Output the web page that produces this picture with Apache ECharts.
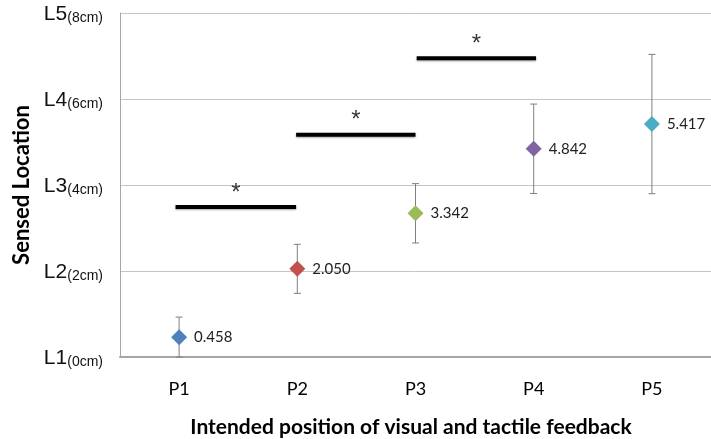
<!DOCTYPE html>
<html>
<head>
<meta charset="utf-8">
<script src="https://cdn.jsdelivr.net/npm/echarts@6/dist/echarts.min.js"></script>
<style>
  html, body { margin: 0; padding: 0; background: #fff; }
  #main { width: 711px; height: 439px; }
</style>
</head>
<body>
<div id="main"></div>
<script>
// categories and values
var positions = ['P1', 'P2', 'P3', 'P4', 'P5'];
var sensed = [0.458, 2.050, 3.342, 4.842, 5.417];
var errors = [0.47, 0.57, 0.69, 1.04, 1.62];
var pointColors = ['#4f81bd', '#c0504d', '#9bbb59', '#8064a2', '#4bacc6'];
var levelNames = ['L1', 'L2', 'L3', 'L4', 'L5'];
var levelCm = ['(0cm)', '(2cm)', '(4cm)', '(6cm)', '(8cm)'];
// significance bars: [from, to, height]
var sigBars = [[0.97, 1.99, 3.49], [1.99, 3.0, 5.17], [3.01, 4.02, 6.95]];

var myChart = echarts.init(document.getElementById('main'));

var pointData = [];
for (var i = 0; i < sensed.length; i++) {
    pointData.push({ value: sensed[i], itemStyle: { color: pointColors[i], opacity: 1 } });
}
var errData = [];
for (var i = 0; i < sensed.length; i++) {
    errData.push([i, Math.max(0, sensed[i] - errors[i]), sensed[i] + errors[i]]);
}

var series = [
    {
        type: 'custom',
        xAxisIndex: 0,
        z: 2,
        renderItem: function (params, api) {
            var x = api.value(0);
            var lo = api.coord([x, api.value(1)]);
            var hi = api.coord([x, api.value(2)]);
            var cap = 3.5;
            var st = { stroke: '#7f7f7f', lineWidth: 1 };
            return {
                type: 'group',
                children: [
                    { type: 'line', shape: { x1: lo[0], y1: lo[1], x2: hi[0], y2: hi[1] }, style: st },
                    { type: 'line', shape: { x1: hi[0] - cap, y1: hi[1], x2: hi[0] + cap, y2: hi[1] }, style: st },
                    { type: 'line', shape: { x1: lo[0] - cap, y1: lo[1], x2: lo[0] + cap, y2: lo[1] }, style: st }
                ]
            };
        },
        data: errData
    },
    {
        type: 'scatter',
        xAxisIndex: 0,
        symbol: 'diamond',
        symbolSize: 16,
        z: 3,
        itemStyle: { opacity: 1 },
        label: {
            show: true,
            position: 'right',
            distance: 7,
            color: '#222',
            fontFamily: 'Lato',
            fontSize: 15,
            formatter: function (p) { return p.value.toFixed(3); }
        },
        data: pointData
    }
];

// significance bars and stars on the hidden value axis
var starData = [];
for (var k = 0; k < sigBars.length; k++) {
    var b = sigBars[k];
    series.push({
        type: 'line',
        xAxisIndex: 1,
        symbol: 'none',
        lineStyle: { color: '#000', width: 4, cap: 'butt',
                     shadowColor: 'rgba(0,0,0,0.35)', shadowBlur: 2, shadowOffsetY: 1 },
        data: [[b[0], b[2]], [b[1], b[2]]]
    });
    starData.push([(b[0] + b[1]) / 2, b[2]]);
}
series.push({
    type: 'scatter',
    xAxisIndex: 1,
    symbolSize: 0,
    label: {
        show: true,
        position: 'top',
        distance: 2,
        color: '#000',
        fontFamily: 'Liberation Sans',
        fontSize: 24,
        formatter: '*'
    },
    data: starData
});

var option = {
    animation: false,
    backgroundColor: '#fff',
    title: {
        text: 'Intended position of visual and tactile feedback',
        left: 406,
        top: 412,
        textAlign: 'center',
        textStyle: { fontFamily: 'Lato', fontWeight: 'bold', fontSize: 21, color: '#000' }
    },
    grid: { left: 120, right: 0, top: 13, bottom: 82 },
    xAxis: [
        {
            type: 'category',
            data: positions,
            boundaryGap: true,
            axisLine: { lineStyle: { color: '#a6a6a6', width: 2 } },
            axisTick: { show: false },
            axisLabel: { color: '#000', fontFamily: 'Lato', fontSize: 18, margin: 23 }
        },
        {
            type: 'value',
            min: 0.5,
            max: 5.5,
            show: false
        }
    ],
    yAxis: {
        type: 'value',
        min: 0,
        max: 8,
        interval: 2,
        name: 'Sensed Location',
        nameLocation: 'middle',
        nameGap: 86,
        nameTextStyle: { fontFamily: 'Lato', fontWeight: 'bold', fontSize: 22, color: '#000' },
        axisLine: { show: true, lineStyle: { color: '#a6a6a6', width: 1 } },
        axisTick: { show: false },
        splitLine: { lineStyle: { color: '#c4c4c4', width: 1 } },
        axisLabel: {
            margin: 17,
            formatter: function (v) {
                var i = Math.round(v / 2);
                return '{a|' + levelNames[i] + '}{b|' + levelCm[i] + '}';
            },
            rich: {
                a: { fontFamily: 'Liberation Sans', fontSize: 21, color: '#111', lineHeight: 24, verticalAlign: 'bottom' },
                b: { fontFamily: 'Liberation Sans', fontSize: 14, color: '#111', lineHeight: 24, verticalAlign: 'bottom', padding: [5, 0, 0, 0] }
            }
        }
    },
    series: series
};

myChart.setOption(option);
</script>
</body>
</html>
